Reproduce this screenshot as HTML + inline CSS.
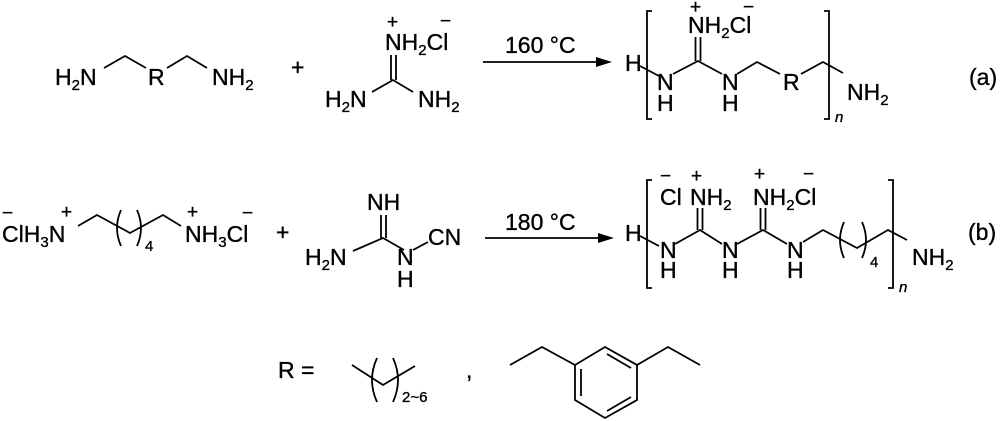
<!DOCTYPE html>
<html><head><meta charset="utf-8"><style>
html,body{margin:0;padding:0;background:#fff;}
svg{display:block;}
text{font-family:"Liberation Sans",sans-serif;font-size:23px;fill:#000;stroke:#000;stroke-width:0.35;}
.s{font-size:15px;}
.c{font-size:19px;}
.i{font-size:15px;font-style:italic;}
</style></head><body>
<svg width="1000" height="421" viewBox="0 0 1000 421" xmlns="http://www.w3.org/2000/svg">
<g stroke="#000" stroke-width="1.8" fill="none">
<polyline points="104,68 125,56 146,68"/>
<polyline points="167,68 187,56 207,68"/>
<line x1="391" y1="55" x2="391" y2="80"/><line x1="396" y1="55" x2="396" y2="80"/>
<polyline points="372,92 393,80 413,92"/>
<line x1="483" y1="62" x2="600" y2="62"/>
<line x1="640" y1="66" x2="659" y2="76"/>
<polyline points="652,11 647,11 647,119 652,119"/>
<polyline points="824,11 829,11 829,119 824,119"/>
<polyline points="673,74 698,61 722,74"/>
<line x1="695.5" y1="37" x2="695.5" y2="61"/><line x1="700.5" y1="37" x2="700.5" y2="61"/>
<polyline points="737,74 757,62 780,74"/>
<polyline points="801,74 823,62 843,73"/>
<polyline points="78,226 97,215 130,233 163,215 181,226"/>
<path d="M121,210 Q113,228 121,246"/><path d="M137,210 Q145,228 137,246"/>
<line x1="381" y1="215" x2="381" y2="238"/><line x1="386" y1="215" x2="386" y2="238"/>
<polyline points="353,251 383,238 404,250"/>
<line x1="413" y1="250" x2="428" y2="242"/>
<line x1="485" y1="238" x2="602" y2="238"/>
<line x1="640" y1="236" x2="659" y2="246"/>
<polyline points="652,180 647,180 647,288 652,288"/>
<polyline points="888,180 893,180 893,288 888,288"/>
<polyline points="675,244 700,230 722,244"/>
<line x1="697.5" y1="208" x2="697.5" y2="230"/><line x1="702.5" y1="208" x2="702.5" y2="230"/>
<polyline points="737,244 763,230 787,244"/>
<line x1="760.5" y1="208" x2="760.5" y2="230"/><line x1="765.5" y1="208" x2="765.5" y2="230"/>
<polyline points="803,242 823,230 857,248 888,230 907,240"/>
<path d="M844,222 Q836,240 844,258"/><path d="M862,222 Q870,240 862,258"/>
<polyline points="352,365 383,385 415,366"/>
<path d="M377,358 Q367,380 377,402"/><path d="M393,358 Q403,380 393,402"/>
<polyline points="510,365 542,347 575,365 605,347 637,365 637,400 605,418 575,400 575,365"/>
<polyline points="637,365 668,347 700,365"/>
<line x1="581" y1="369" x2="581" y2="396"/>
<line x1="607" y1="354" x2="631" y2="368"/>
<line x1="607" y1="411" x2="631" y2="397"/>
</g>
<polygon points="612,62 596,57 596,67" fill="#000"/>
<polygon points="614,238 598,233 598,243" fill="#000"/>

<text x="55" y="85">H<tspan class="s" dy="5">2</tspan><tspan dy="-5">N</tspan></text>
<text x="148" y="85">R</text>
<text x="212" y="85">NH<tspan class="s" dy="5">2</tspan></text>
<text x="291" y="75">+</text>
<text x="385" y="50">NH<tspan class="s" dy="5">2</tspan><tspan dy="-5">Cl</tspan></text>
<text x="387" y="28" class="c">+</text>
<text x="440" y="27" class="c">−</text>
<text x="325" y="107">H<tspan class="s" dy="5">2</tspan><tspan dy="-5">N</tspan></text>
<text x="418" y="107">NH<tspan class="s" dy="5">2</tspan></text>
<text x="505" y="53">160 °C</text>
<text x="625" y="71">H</text>
<text x="657" y="90">N</text><text x="657" y="111">H</text>
<text x="722" y="90">N</text><text x="722" y="111">H</text>
<text x="688" y="33">NH<tspan class="s" dy="5">2</tspan><tspan dy="-5">Cl</tspan></text>
<text x="690" y="13" class="c">+</text>
<text x="743" y="13" class="c">−</text>
<text x="783" y="90">R</text>
<text x="847" y="100">NH<tspan class="s" dy="5">2</tspan></text>
<text x="835" y="122" class="i">n</text>
<text x="969" y="85">(a)</text>

<text x="2" y="242">ClH<tspan class="s" dy="5">3</tspan><tspan dy="-5">N</tspan></text>
<text x="2" y="219" class="c">−</text>
<text x="61" y="218" class="c">+</text>
<text x="145" y="251" class="s">4</text>
<text x="185" y="242">NH<tspan class="s" dy="5">3</tspan><tspan dy="-5">Cl</tspan></text>
<text x="187" y="218" class="c">+</text>
<text x="242" y="219" class="c">−</text>
<text x="276" y="240">+</text>
<text x="367" y="210">NH</text>
<text x="305" y="265">H<tspan class="s" dy="5">2</tspan><tspan dy="-5">N</tspan></text>
<text x="397" y="265">N</text><text x="397" y="287">H</text>
<text x="428" y="245">CN</text>
<text x="505" y="230">180 °C</text>
<text x="625" y="241">H</text>
<text x="660" y="205">Cl</text>
<text x="690" y="205">NH<tspan class="s" dy="5">2</tspan></text>
<text x="660" y="182" class="c">−</text>
<text x="691" y="182" class="c">+</text>
<text x="753" y="205">NH<tspan class="s" dy="5">2</tspan><tspan dy="-5">Cl</tspan></text>
<text x="754" y="180" class="c">+</text>
<text x="803" y="180" class="c">−</text>
<text x="660" y="258">N</text><text x="660" y="278">H</text>
<text x="722" y="258">N</text><text x="722" y="278">H</text>
<text x="787" y="258">N</text><text x="787" y="278">H</text>
<text x="870" y="267" class="s">4</text>
<text x="912" y="265">NH<tspan class="s" dy="5">2</tspan></text>
<text x="899" y="292" class="i">n</text>
<text x="968" y="240">(b)</text>

<text x="278" y="378">R =</text>
<text x="402" y="402" class="s">2~6</text>
<text x="466" y="378">,</text>
</svg>
</body></html>
